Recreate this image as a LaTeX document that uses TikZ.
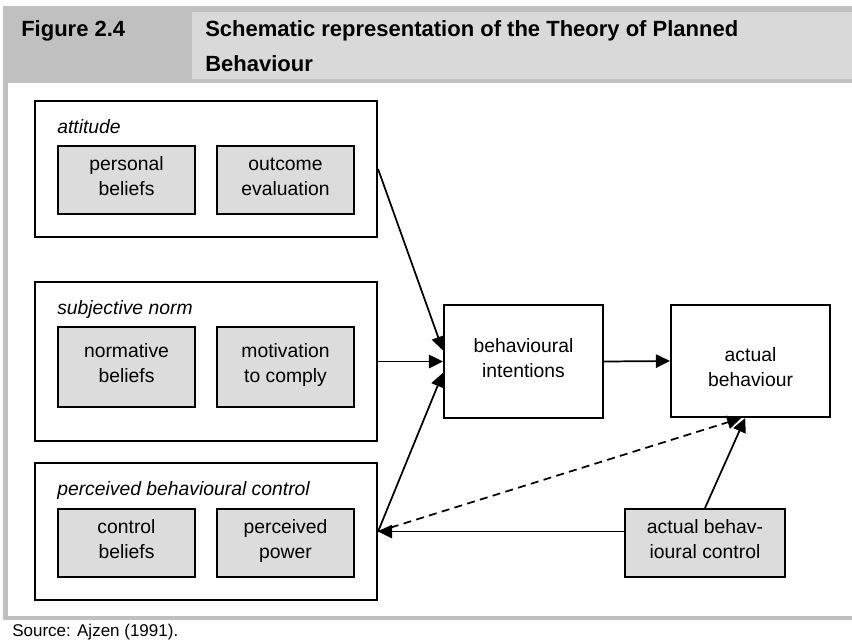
\documentclass[tikz,border=0pt]{standalone}
\usepackage{fontspec}
\setmainfont{Liberation Sans}
\usepackage{tikz}
\usetikzlibrary{calc}
\usetikzlibrary{positioning}
\usetikzlibrary{arrows.meta}
\definecolor{framegray}{HTML}{C0C0C0}
\definecolor{cellgray}{HTML}{D9D9D9}
\definecolor{factorgray}{HTML}{DCDCDC}

\begin{document}
\begin{tikzpicture}[x=0.75pt, y=-0.75pt]
\tikzstyle{group}=[rectangle,draw,line width=1.6pt,minimum width=256.5pt,inner sep=0pt]
\tikzstyle{factor}=[rectangle,align=center,draw,line width=1.6pt,fill=factorgray,minimum width=102.75pt,inner sep=0pt,font=\fontsize{14.5}{18.75}\selectfont,execute at begin node=\strut,execute at end node=\strut]
\tikzstyle{stage}=[rectangle,align=center,draw,line width=1.6pt,minimum width=119.25pt,inner sep=0pt,font=\fontsize{14.5}{18.75}\selectfont,execute at begin node=\strut,execute at end node=\strut]
\tikzstyle{grouplabel}=[anchor=base west,inner sep=0pt,font=\itshape\fontsize{14.5}{18}\selectfont]
\tikzstyle{arr}=[line width=1.3pt,-{Triangle[length=10.5pt,width=10pt]}]
\useasboundingbox (0, 0) rectangle (852, 643);
% frame and caption
\fill[framegray] (3, 6) rectangle (852, 83);
\fill[cellgray] (192, 12) rectangle (852, 79);
\fill[framegray] (3, 83) rectangle (8, 620);
\fill[framegray] (8, 616) rectangle (852, 620);
\node[anchor=base west,inner sep=0pt,font=\bfseries\fontsize{16.5}{25}\selectfont] at(21, 36) (fig) {Figure 2.4};
\node[anchor=base west,inner sep=0pt,font=\bfseries\fontsize{16.5}{25}\selectfont] at(205, 36) (title) {Schematic representation of the Theory of Planned};
\node[anchor=base west,inner sep=0pt,font=\bfseries\fontsize{16.5}{25}\selectfont] at(205, 71) (title2) {Behaviour};
\node[anchor=base west,inner sep=0pt,font=\fontsize{12.75}{15}\selectfont] at(12, 636) (source) {Source: Ajzen (1991).};
% the three groups
\node[group,minimum height=102pt] at(206, 169) (att) {};
\node[grouplabel] at(57, 133) (attlab) {attitude};
\node[factor,minimum height=51pt] at(126.5, 180) (pb) {personal\\beliefs};
\node[factor,minimum height=51pt] at(285.5, 180) (oe) {outcome\\evaluation};
\node[group,minimum height=119.25pt] at(206, 361.5) (sn) {};
\node[grouplabel] at(57, 314) (snlab) {subjective norm};
\node[factor,minimum height=60pt] at(126.5, 367) (nb) {normative\\beliefs};
\node[factor,minimum height=60pt] at(285.5, 367) (mc) {motivation\\to comply};
\node[group,minimum height=102.75pt] at(206, 531.5) (pbc) {};
\node[grouplabel] at(57, 495) (pbclab) {perceived behavioural control};
\node[factor,minimum height=51pt] at(126.5, 543) (cb) {control\\beliefs};
\node[factor,minimum height=51pt] at(285.5, 543) (pp) {perceived\\power};
% intentions and behaviour
\node[stage,minimum height=84.75pt] at(523.5, 361.5) (bi) {behavioural\\intentions};
\node[stage,minimum height=84pt] at(750.5, 361) (ab) {\raisebox{-6pt}[\height][\depth]{\begin{tabular}{@{}c@{}}actual\\behaviour\end{tabular}}};
\node[stage,fill=factorgray,minimum width=120pt,minimum height=51pt] at(705, 543) (abc) {actual behav-\\ioural control};
\draw[arr] (att.east) to ([yshift=8.25pt]bi.west);
\draw[arr] (sn.east) to (bi.west);
\draw[arr] (pbc.east) to ([yshift=-8.5pt]bi.west);
\draw[arr] (bi.east) to (ab.west);
\draw[arr] (pbc.east -| abc.west) to (pbc.east);
\draw[arr] (abc.north) to ([xshift=-4pt]ab.south);
\draw[arr,dashed,dash pattern=on 6pt off 4pt] (pbc.east) to ([xshift=-7pt]ab.south);
\end{tikzpicture}
\end{document}
